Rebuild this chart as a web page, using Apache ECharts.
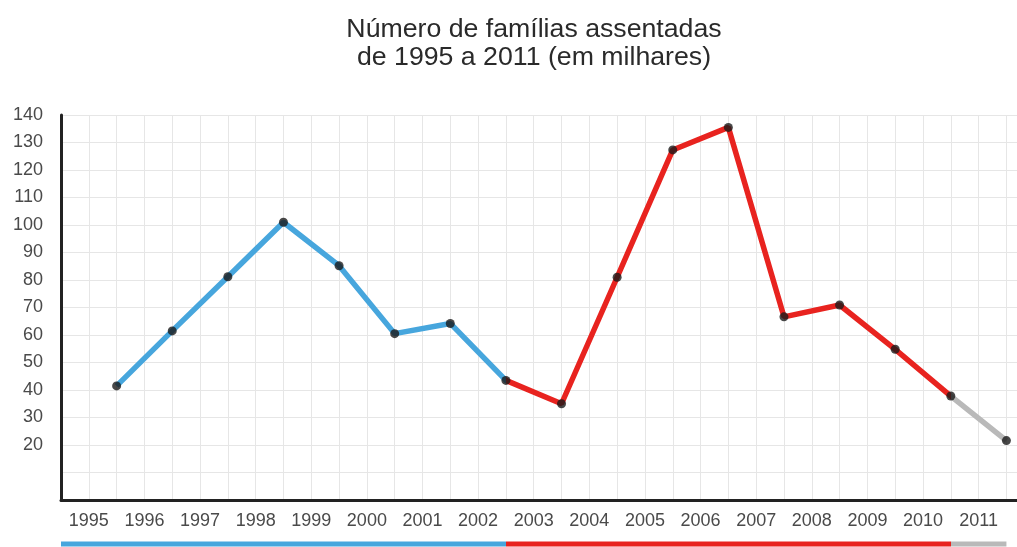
<!DOCTYPE html>
<html>
<head>
<meta charset="utf-8">
<script src="https://cdn.jsdelivr.net/npm/echarts@6/dist/echarts.min.js"></script>
<style>
html,body{margin:0;padding:0;background:#fff;}
#chart{width:1017px;height:547px;}
</style>
</head>
<body>
<div id="chart"></div>
<script>
// ---- data ----
const years = [1995,1996,1997,1998,1999,2000,2001,2002,2003,2004,2005,2006,2007,2008,2009,2010,2011];
const families = [41.5,61.5,81.2,101,85.2,60.5,64.2,43.5,35,81,127.3,135.5,66.6,70.9,54.8,37.8,21.6];
const termEnds = [2002, 2010];          // years where the line colour changes
const yTicksShownFrom = 20;             // lowest y tick label drawn
const titleLines = ['Número de famílias assentadas', 'de 1995 a 2011 (em milhares)'];

// ---- styles ----
const BLUE = '#47a6dd', RED = '#e8231f', GRAY = '#b9b9b9';
const FONT = 'Liberation Sans, Arial, sans-serif';

const xMin = years[0] - 1;
const xMax = 2011.19;

const chart = echarts.init(document.getElementById('chart'), null, {renderer: 'canvas'});
chart.setOption({
  animation: false,
  backgroundColor: '#ffffff',
  title: {
    text: titleLines.join('\n'),
    left: 534,
    textAlign: 'center',
    top: 16,
    padding: 0,
    textStyle: {fontFamily: FONT, fontSize: 26.7, fontWeight: 'normal', color: '#2a2a2a', lineHeight: 28, align: 'center'}
  },
  grid: [
    {left: 61, right: 0, top: 115, bottom: 47, containLabel: false},
    {left: 61, right: 0, top: 541, height: 8, containLabel: false}
  ],
  xAxis: [
    {
      type: 'value', gridIndex: 0, min: xMin, max: xMax, interval: 0.5,
      axisLine: {show: true, onZero: false, lineStyle: {color: '#222', width: 3}},
      axisTick: {show: false},
      axisLabel: {
        margin: 12, fontFamily: FONT, fontSize: 18, color: '#4a4a4a',
        showMaxLabel: false,
        formatter: v => (Math.abs((v % 1) - 0.5) < 1e-6) ? String(v + 0.5) : ''
      },
      splitLine: {show: true, lineStyle: {color: '#e6e6e6', width: 1}}
    },
    {type: 'value', gridIndex: 1, min: xMin, max: xMax, show: false}
  ],
  yAxis: [
    {
      type: 'value', gridIndex: 0, min: 0, max: 140, interval: 10,
      axisLine: {show: true, lineStyle: {color: '#222', width: 3}},
      axisTick: {show: false},
      axisLabel: {
        margin: 18, fontFamily: FONT, fontSize: 18, color: '#4a4a4a',
        padding: [0, 0, 12, 0],
        formatter: v => v >= yTicksShownFrom ? String(v) : ''
      },
      splitLine: {show: true, lineStyle: {color: '#e6e6e6', width: 1}}
    },
    {type: 'value', gridIndex: 1, min: -1, max: 1, show: false}
  ],
  visualMap: {
    type: 'piecewise', show: false, dimension: 0, seriesIndex: [0, 2],
    pieces: [
      {lte: termEnds[0], color: BLUE},
      {gt: termEnds[0], lte: termEnds[1], color: RED},
      {gt: termEnds[1], color: GRAY}
    ]
  },
  series: [
    {
      type: 'line', xAxisIndex: 0, yAxisIndex: 0, z: 2,
      data: years.map((y, i) => [y, families[i]]),
      symbol: 'none',
      lineStyle: {width: 5.5}
    },
    {
      type: 'scatter', xAxisIndex: 0, yAxisIndex: 0, z: 3,
      data: years.map((y, i) => [y, families[i]]),
      symbolSize: 9,
      itemStyle: {color: '#1a1a1a'}
    },
    {
      type: 'line', xAxisIndex: 1, yAxisIndex: 1,
      data: [[xMin, 0], [years[years.length - 1], 0]],
      symbol: 'none',
      lineStyle: {width: 5}
    }
  ]
});
</script>
</body>
</html>
